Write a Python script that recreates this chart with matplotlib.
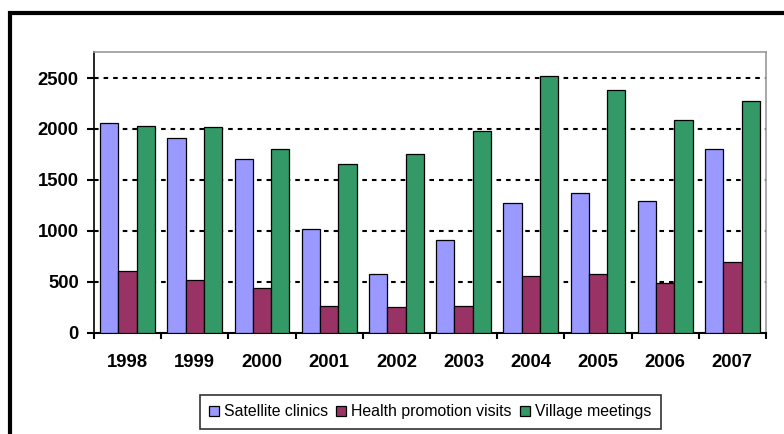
import numpy as np
import matplotlib.pyplot as plt
from matplotlib.patches import Rectangle
from matplotlib.ticker import FixedLocator

plt.rcParams['font.family'] = ['Liberation Sans', 'DejaVu Sans']

years = ['1998', '1999', '2000', '2001', '2002', '2003', '2004', '2005', '2006', '2007']
satellite = [2060, 1910, 1705, 1020, 575, 915, 1275, 1375, 1290, 1805]
health = [605, 515, 440, 265, 250, 265, 560, 575, 490, 695]
village = [2030, 2015, 1805, 1660, 1750, 1985, 2520, 2385, 2090, 2270]

series = [
    ('Satellite clinics', satellite, '#9999FF'),
    ('Health promotion visits', health, '#993366'),
    ('Village meetings', village, '#339966'),
]

fig = plt.figure(figsize=(7.84, 4.34), dpi=100)
ax = fig.add_axes([0.1199, 0.2334, 0.8571, 0.6466])

x = np.arange(len(years))
w = 0.272
for i, (name, vals, col) in enumerate(series):
    ax.bar(x + (i - 1) * w, vals, w, color=col, edgecolor='black', linewidth=0.9,
           label=name, zorder=3)

ax.set_xlim(-0.5, len(years) - 0.5)
ax.set_ylim(0, 2755)
ax.set_yticks([0, 500, 1000, 1500, 2000, 2500])
ax.set_xticks(x)
ax.set_xticklabels(years)
ax.xaxis.set_minor_locator(FixedLocator(np.arange(-0.5, len(years), 1.0)))

ax.tick_params(axis='x', which='major', length=0, pad=15.5, labelsize=13.3)
ax.tick_params(axis='x', which='minor', length=4, width=1.5, direction='out', color='black')
ax.tick_params(axis='y', length=5, width=1.5, direction='out', pad=6, labelsize=13.3)
for lbl in ax.get_xticklabels() + ax.get_yticklabels():
    lbl.set_fontweight('bold')

# dashed gridlines
for v in [500, 1000, 1500, 2000, 2500]:
    ax.axhline(v, color='black', lw=1.5, ls=(0, (2.2, 2.4)), zorder=1)

for side in ['top', 'right']:
    ax.spines[side].set_color('#999999')
    ax.spines[side].set_linewidth(1.2)
ax.spines['left'].set_color('black')
ax.spines['left'].set_linewidth(1.2)
ax.spines['bottom'].set_color('black')
ax.spines['bottom'].set_linewidth(1.5)

leg = fig.legend(loc='center', bbox_to_anchor=(0.5485, 0.0507), ncol=3, fontsize=11.4,
                 frameon=True, fancybox=False, edgecolor='black', handlelength=0.65,
                 handleheight=0.65, handletextpad=0.3, columnspacing=0.5,
                 borderpad=0.6, borderaxespad=0)
leg.get_frame().set_linewidth(1.2)

# outer chart border
fig.patches.append(Rectangle((9.5 / 784, -0.1), 1.2, (434 - 13) / 434 + 0.1,
                             transform=fig.transFigure, fill=False,
                             edgecolor='black', linewidth=3, clip_on=False))

fig.savefig('out.png', dpi=100)
